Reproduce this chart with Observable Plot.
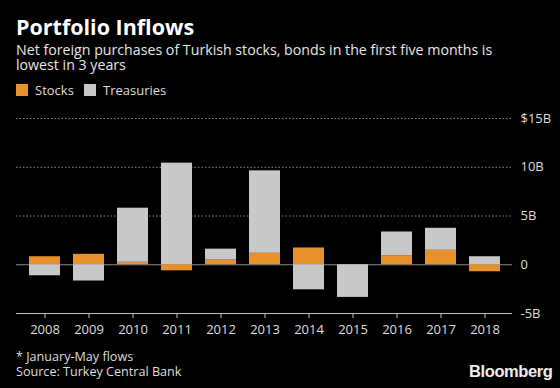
<!DOCTYPE html>
<html><head><meta charset="utf-8">
<script src="https://cdn.jsdelivr.net/npm/d3@7"></script>
<script src="https://cdn.jsdelivr.net/npm/@observablehq/plot@0.6"></script>
<style>
html,body{margin:0;padding:0;background:#000;width:560px;height:388px;overflow:hidden;}
body{position:relative;font-family:"Open Sans",sans-serif;color:#e6e6e6;}
.abs{position:absolute;white-space:nowrap;}
#title{left:16px;top:14px;font-size:21.5px;font-weight:700;color:#fff;line-height:26px;}
.sub{left:16px;font-size:14.2px;line-height:15px;color:#e6e6e6;}
#legend{left:16px;top:81px;font-size:13px;line-height:18px;color:#ddd;}
.sw{display:inline-block;width:12px;height:12px;vertical-align:-1px;margin-right:7px;}
.note{left:16px;font-size:12.6px;line-height:15px;color:#ddd;}
#logo{left:469px;top:362px;font-size:16.5px;font-weight:700;color:#eee;font-family:"Liberation Sans",Arial,sans-serif;letter-spacing:-0.4px;line-height:18px;}
#chart{left:0;top:105px;}
</style></head>
<body>
<div id="title" class="abs">Portfolio Inflows</div>
<div class="abs sub" style="top:42px">Net foreign purchases of Turkish stocks, bonds in the first five months is</div>
<div class="abs sub" style="top:57px">lowest in 3 years</div>
<div id="legend" class="abs"><span class="sw" style="background:#e8912a"></span>Stocks&nbsp;&nbsp;&nbsp;<span class="sw" style="background:#c8c8c8"></span>Treasuries</div>
<div id="chart" class="abs"></div>
<div class="abs note" style="top:349px">* January-May flows</div>
<div class="abs note" style="top:364px">Source: Turkey Central Bank</div>
<div id="logo" class="abs">Bloomberg</div>
<script>
const years = ["2008","2009","2010","2011","2012","2013","2014","2015","2016","2017","2018"];
const stocks = [0.82, 1.07, 0.25, -0.62, 0.48, 1.17, 1.72, 0, 0.93, 1.48, -0.72];
const treasuries = [-1.13, -1.67, 5.55, 10.42, 1.12, 8.46, -2.57, -3.35, 2.43, 2.26, 0.82];
const seriesNames = ["Stocks", "Treasuries"];
const seriesColors = ["#e8912a", "#c8c8c8"];
const yTicks = [-5, 0, 5, 10, 15];
const yTickLabels = ["-5B", "0", "5B", "10B", "$15B"];

const data = [];
years.forEach((y, i) => {
  data.push({year: y, series: seriesNames[0], value: stocks[i]});
  data.push({year: y, series: seriesNames[1], value: treasuries[i]});
});

const chart = Plot.plot({
  width: 560,
  height: 240,
  marginTop: 13,
  marginBottom: 32,
  marginLeft: 16,
  marginRight: 48,
  style: {background: "#000", color: "#ddd", fontFamily: "Open Sans, sans-serif", fontSize: "13px"},
  x: {domain: years, paddingInner: 0.3, paddingOuter: 0.2, label: null},
  y: {domain: [-5, 15], label: null},
  color: {domain: seriesNames, range: seriesColors},
  marks: [
    Plot.ruleY([5, 10, 15], {stroke: "#8a8a8a", strokeDasharray: "1.5,2", strokeWidth: 1}),
    Plot.ruleY([0], {stroke: "#8a8a8a", strokeWidth: 1}),
    Plot.barY(data, {x: "year", y: "value", fill: "series", order: seriesNames}),
    Plot.ruleY([-5], {stroke: "#c0c0c0", strokeWidth: 1}),
    Plot.axisX({tickSize: 5, tickPadding: 6, stroke: "#c0c0c0", fill: "#ddd", fontSize: 13}),
    Plot.axisY({anchor: "right", ticks: yTicks, tickSize: 0, tickPadding: 8, textAnchor: "start", fill: "#ddd", fontSize: 13,
      tickFormat: d => yTickLabels[yTicks.indexOf(d)]})
  ]
});
document.getElementById("chart").appendChild(chart);
</script>
</body></html>
